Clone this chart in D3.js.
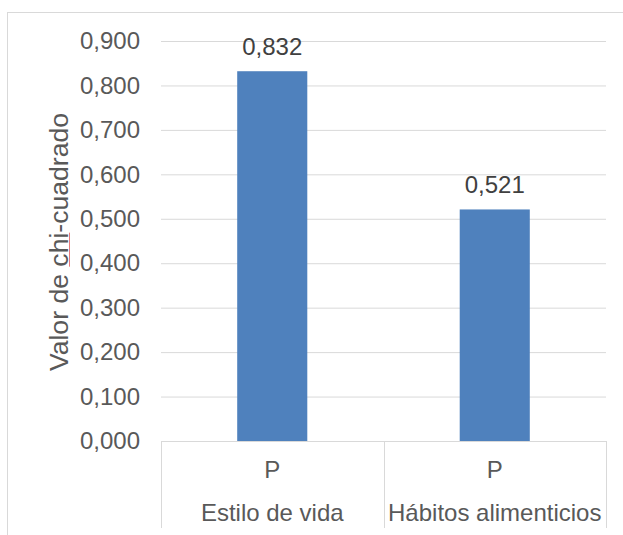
<!DOCTYPE html>
<html>

<head>
    <meta charset="utf-8">
    <title>Valor de chi-cuadrado</title>
    <script src="https://d3js.org/d3.v7.min.js"></script>
    <style>
        body { margin: 0; background: #fff; }
        text { font-family: "Liberation Sans", Arial, sans-serif; }
    </style>
</head>

<body>
    <svg width="623" height="535" id="mainSvg"></svg>
    <script>
        // datos
        const categories = ["Estilo de vida", "Hábitos alimenticios"];
        const subLabels = ["P", "P"];
        const values = [0.832, 0.521];
        const yTicks = [0, 0.1, 0.2, 0.3, 0.4, 0.5, 0.6, 0.7, 0.8, 0.9];
        const yTitle = "Valor de chi-cuadrado";

        const svg = d3.select("#mainSvg");
        const plot = { left: 161, right: 606, top: 41, bottom: 441 };
        const gridColor = "#d9d9d9";

        // borde del area del grafico (sale por la derecha y por abajo)
        svg.append("rect")
            .attr("x", 7.5).attr("y", 12.5)
            .attr("width", 640).attr("height", 560)
            .attr("fill", "none")
            .attr("stroke", gridColor);

        const locale = d3.formatLocale({ decimal: ",", thousands: ".", grouping: [3], currency: ["", "€"] });
        const fmt = locale.format(".3f");

        const yScale = d3.scaleLinear()
            .domain([0, 0.9])
            .range([plot.bottom, plot.top]);

        const xScale = d3.scaleBand()
            .domain(categories)
            .range([plot.left, plot.right])
            .paddingInner(0.685)
            .paddingOuter(0.3425);

        // eje y con lineas de cuadricula
        const yAxis = d3.axisLeft(yScale)
            .tickValues(yTicks)
            .tickFormat(fmt)
            .tickSize(-(plot.right - plot.left))
            .tickPadding(21);

        const yAxisGroup = svg.append("g")
            .attr("transform", `translate(${plot.left}, 0)`)
            .call(yAxis);
        yAxisGroup.select(".domain").remove();
        yAxisGroup.selectAll(".tick line")
            .attr("stroke", gridColor)
            .attr("stroke-width", 1);
        yAxisGroup.selectAll(".tick text")
            .attr("fill", "#595959")
            .style("font-size", "24px")
            .style("font-family", "'Liberation Sans', Arial, sans-serif");

        // barras
        svg.append("g").selectAll("rect")
            .data(values)
            .join("rect")
            .attr("x", (d, i) => xScale(categories[i]))
            .attr("y", d => yScale(d))
            .attr("width", xScale.bandwidth())
            .attr("height", d => yScale(0) - yScale(d))
            .attr("fill", "#4f81bd");

        // etiquetas de datos
        svg.append("g").selectAll("text")
            .data(values)
            .join("text")
            .attr("x", (d, i) => xScale(categories[i]) + xScale.bandwidth() / 2)
            .attr("y", d => yScale(d) - 16)
            .attr("text-anchor", "middle")
            .attr("fill", "#404040")
            .style("font-size", "24px")
            .text(d => fmt(d));

        // eje x de dos niveles
        const step = xScale.step();
        const edges = [plot.left].concat(categories.map(c => xScale(c) - xScale.step() * xScale.paddingInner() / 2 + step));
        const xg = svg.append("g");
        xg.append("line")
            .attr("x1", plot.left).attr("x2", plot.right)
            .attr("y1", yScale(0) + 0.5).attr("y2", yScale(0) + 0.5)
            .attr("stroke", gridColor);
        xg.selectAll(".sep")
            .data(d3.range(categories.length + 1))
            .join("line")
            .attr("class", "sep")
            .attr("x1", i => Math.round(plot.left + i * step) + 0.5)
            .attr("x2", i => Math.round(plot.left + i * step) + 0.5)
            .attr("y1", yScale(0))
            .attr("y2", 528)
            .attr("stroke", gridColor);

        const center = c => xScale(c) + xScale.bandwidth() / 2;
        xg.selectAll(".sub")
            .data(categories)
            .join("text")
            .attr("class", "sub")
            .attr("x", center)
            .attr("y", 478)
            .attr("text-anchor", "middle")
            .attr("fill", "#595959")
            .style("font-size", "24px")
            .text((d, i) => subLabels[i]);
        xg.selectAll(".cat")
            .data(categories)
            .join("text")
            .attr("class", "cat")
            .attr("x", center)
            .attr("y", 521)
            .attr("text-anchor", "middle")
            .attr("fill", "#595959")
            .style("font-size", "24px")
            .text(d => d);

        // titulo del eje y
        const titleX = 68, titleY = 242;
        const title = svg.append("text")
            .attr("transform", `translate(${titleX}, ${titleY}) rotate(-90)`)
            .attr("text-anchor", "middle")
            .attr("fill", "#595959")
            .style("font-size", "26.6px")
            .text(yTitle);

        // subrayado rojo del corrector bajo "chi"
        const node = title.node();
        const total = node.getComputedTextLength();
        const start = node.getSubStringLength(0, 9);
        const len = node.getSubStringLength(9, 3);
        svg.append("line")
            .attr("x1", titleX + 1.5).attr("x2", titleX + 1.5)
            .attr("y1", titleY + total / 2 - start)
            .attr("y2", titleY + total / 2 - start - len)
            .attr("stroke", "#e8787a")
            .attr("stroke-width", 1);
    </script>
</body>

</html>
